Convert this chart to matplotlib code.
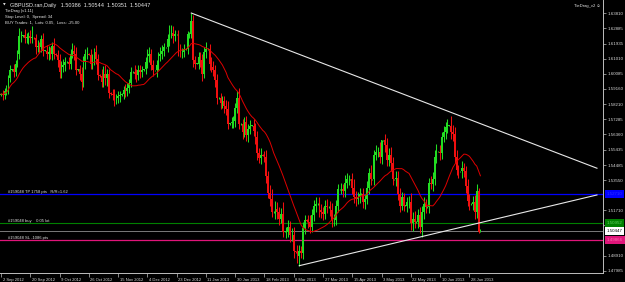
import matplotlib
matplotlib.use("Agg")
import matplotlib.pyplot as plt
import matplotlib.transforms as mtransforms
import numpy as np
import pandas as pd

# GBPUSD daily closes, one row per week: Sun, Mon, Tue, Wed, Thu, Fri (25 Dec missing)
first_open = 1.5880
closes = [
    1.5885, 1.5880, 1.5900, 1.5910, 1.5980, 1.6030,
    1.6035, 1.6020, 1.6070, 1.6130, 1.6240, 1.6240,
    1.6245, 1.6230, 1.6230, 1.6240, 1.6230, 1.6230,
    1.6225, 1.6170, 1.6180, 1.6170, 1.6220, 1.6150,
    1.6150, 1.6130, 1.6140, 1.6130, 1.6180, 1.6130,
    1.6125, 1.6090, 1.6020, 1.6050, 1.6060, 1.6080,
    1.6080, 1.6070, 1.6130, 1.6150, 1.6130, 1.6030,
    1.6035, 1.6010, 1.5960, 1.6080, 1.6130, 1.6130,
    1.6125, 1.6070, 1.6100, 1.6140, 1.6100, 1.6000,
    1.5995, 1.5960, 1.6010, 1.5980, 1.6010, 1.5890,
    1.5885, 1.5880, 1.5860, 1.5860, 1.5870, 1.5880,
    1.5885, 1.5910, 1.5900, 1.5920, 1.5950, 1.6020,
    1.6020, 1.6010, 1.6000, 1.6030, 1.6020, 1.6030,
    1.6035, 1.6080, 1.6120, 1.6130, 1.6060, 1.6030,
    1.6030, 1.6060, 1.6120, 1.6130, 1.6150, 1.6170,
    1.6170, 1.6220, 1.6260, 1.6260, 1.6240, 1.6250,
    1.6250, 1.6160, 1.6140, 1.6140, 1.6160,
    1.6160, 1.6250, 1.6250, 1.6330, 1.6090, 1.6070,
    1.6070, 1.6110, 1.6090, 1.6010, 1.6140, 1.6160,
    1.6160, 1.6070, 1.6050, 1.6030, 1.5970, 1.5860,
    1.5860, 1.5830, 1.5840, 1.5810, 1.5790, 1.5700,
    1.5705, 1.5710, 1.5720, 1.5800, 1.5860, 1.5700,
    1.5700, 1.5650, 1.5710, 1.5630, 1.5670, 1.5690,
    1.5690, 1.5660, 1.5620, 1.5520, 1.5490, 1.5510,
    1.5505, 1.5500, 1.5380, 1.5280, 1.5240, 1.5160,
    1.5160, 1.5180, 1.5160, 1.5120, 1.5150, 1.5040,
    1.5040, 1.5040, 1.5070, 1.5020, 1.5020, 1.4920,
    1.4915, 1.4890, 1.4920, 1.4910, 1.5060, 1.5110,
    1.5105, 1.5100, 1.5070, 1.5140, 1.5200, 1.5210,
    1.5210, 1.5170, 1.5160, 1.5150, 1.5200, 1.5190,
    1.5190, 1.5170, 1.5110, 1.5110, 1.5200, 1.5300,
    1.5300, 1.5300, 1.5290, 1.5340, 1.5360, 1.5360,
    1.5360, 1.5310, 1.5250, 1.5240, 1.5250, 1.5270,
    1.5270, 1.5220, 1.5240, 1.5310, 1.5400, 1.5360,
    1.5360, 1.5510, 1.5530, 1.5530, 1.5500, 1.5600,
    1.5600, 1.5570, 1.5480, 1.5510, 1.5460, 1.5360,
    1.5360, 1.5370, 1.5270, 1.5200, 1.5250, 1.5200,
    1.5200, 1.5220, 1.5220, 1.5090, 1.5120, 1.5100,
    1.5100, 1.5140, 1.5070, 1.5160, 1.5210, 1.5190,
    1.5190, 1.5340, 1.5330, 1.5360, 1.5500, 1.5530,
    1.5530, 1.5520, 1.5620, 1.5650, 1.5680, 1.5690,
    1.5690, 1.5650, 1.5640, 1.5500, 1.5420, 1.5410,
    1.5410, 1.5430, 1.5410, 1.5320, 1.5230, 1.5210,
    1.5210, 1.5220, 1.5160, 1.5290, 1.50386, 1.50447,
]
# wick above / below the body, in pips
hi_ext = [
    5, 25, 20, 30, 20, 30,   4, 35, 20, 25, 50, 30,   4, 40, 30, 25, 35, 70,
    5, 30, 35, 25, 25, 40,   4, 35, 40, 30, 25, 45,   5, 30, 40, 35, 40, 30,
    4, 30, 30, 50, 35, 40,   5, 30, 40, 35, 30, 40,   4, 35, 30, 25, 45, 30,
    5, 40, 45, 50, 25, 30,   4, 30, 35, 25, 30, 25,   5, 25, 35, 30, 25, 30,
    4, 40, 30, 30, 35, 25,   5, 30, 40, 45, 30, 30,   4, 30, 25, 40, 35, 30,
    5, 30, 45, 50, 40, 30,   5, 30, 30, 25, 30,       4, 20, 15, 51, 40, 30,
    5, 35, 30, 40, 30, 45,   4, 30, 40, 35, 30, 40,   5, 30, 30, 35, 40, 50,
    4, 35, 30, 30, 40, 60,   5, 30, 35, 40, 30, 35,   4, 40, 45, 35, 30, 40,
    5, 30, 40, 35, 45, 60,   4, 50, 40, 30, 35, 70,   5, 30, 40, 35, 40, 50,
    4, 40, 35, 30, 40, 35,   5, 40, 45, 40, 35, 40,   4, 45, 40, 30, 35, 40,
    5, 40, 45, 40, 35, 30,   4, 40, 35, 45, 40, 30,   5, 40, 50, 40, 35, 40,
    4, 35, 30, 40, 30, 50,   5, 30, 40, 30, 60, 5,    5, 40, 45, 40, 50, 40,
    4, 40, 45, 40, 35, 30,   5, 35, 40, 55, 40, 45,   4, 40, 50, 35, 40, 30,
    5, 30, 40, 45, 40, 50,   4, 40, 30, 40, 35, 40,   5, 60, 45, 40, 40, 30,
    4, 45, 30, 35, 40, 40,   5, 40, 45, 40, 20, 9.7,
]
lo_ext = [
    5, 30, 25, 20, 25, 20,   5, 30, 25, 20, 30, 35,   4, 35, 30, 40, 30, 30,
    5, 40, 30, 35, 25, 30,   4, 30, 35, 30, 40, 30,   5, 40, 35, 40, 30, 35,
    4, 35, 30, 25, 40, 30,   5, 40, 50, 35, 40, 30,   4, 30, 35, 40, 30, 30,
    5, 35, 30, 40, 45, 30,   4, 35, 50, 40, 30, 35,   5, 30, 35, 30, 30, 25,
    4, 35, 40, 30, 35, 30,   5, 30, 35, 40, 30, 35,   4, 40, 30, 35, 30, 30,
    5, 30, 40, 35, 45, 30,   4, 40, 30, 35, 30,       5, 30, 20, 20, 40, 35,
    4, 35, 40, 45, 30, 35,   5, 40, 30, 35, 40, 40,   4, 35, 30, 40, 35, 30,
    5, 30, 35, 40, 30, 30,   4, 40, 30, 35, 40, 30,   5, 35, 40, 40, 30, 35,
    4, 35, 40, 35, 40, 30,   5, 40, 45, 40, 30, 35,   4, 40, 35, 45, 40, 40,
    5, 40, 59, 30, 40, 35,   4, 35, 40, 30, 35, 40,   5, 40, 35, 40, 30, 35,
    4, 35, 40, 35, 30, 40,   5, 30, 35, 40, 30, 35,   4, 40, 35, 45, 30, 35,
    5, 35, 40, 30, 40, 35,   4, 35, 30, 35, 40, 45,   5, 40, 35, 40, 45, 35,
    4, 40, 35, 40, 30, 35,   5, 40, 35, 40, 45, 40,   4, 35, 40, 63, 40, 35,
    5, 35, 30, 40, 35, 40,   4, 40, 35, 30, 40, 35,   5, 40, 45, 40, 35, 40,
    4, 40, 35, 40, 35, 40,   5, 40, 45, 35, 10, 3.5,
]

date_pos = [0, 16, 32, 48, 64, 80, 96, 112, 128, 144, 160, 176, 192, 208, 224, 240, 256]
date_labels = ["2 Sep 2012", "20 Sep 2012", "9 Oct 2012", "26 Oct 2012", "15 Nov 2012",
               "4 Dec 2012", "23 Dec 2012", "11 Jan 2013", "30 Jan 2013", "18 Feb 2013",
               "8 Mar 2013", "27 Mar 2013", "15 Apr 2013", "3 May 2013", "22 May 2013",
               "10 Jun 2013", "28 Jun 2013"]
price_ticks = [1.63810, 1.62885, 1.61935, 1.61010, 1.60085, 1.59160, 1.58210, 1.57285,
               1.56360, 1.55435, 1.54485, 1.53550, 1.51710, 1.50785,
               1.48910, 1.47985]

# trendlines (bar index, price)
upper_x = [104, 325.7]
upper_y = [1.6381, 1.5429]
lower_x = [163, 325.7]
lower_y = [1.4831, 1.5265]

tp_price, entry_price, bid_price, sl_price = 1.52710, 1.50952, 1.50447, 1.49866

c = np.array(closes)
o = np.r_[first_open, c[:-1]]
hi = np.maximum(o, c) + np.array(hi_ext) / 10000
lo = np.minimum(o, c) - np.array(lo_ext) / 10000
idx = np.arange(len(c))
cols = np.where(c >= o, "#22dc22", "#f01010")
ma = pd.Series(c).rolling(20, min_periods=1).mean()

plt.rcParams["font.family"] = ["Liberation Sans", "DejaVu Sans"]
fig = plt.figure(figsize=(6.25, 2.82), dpi=100, facecolor="black")
ax = fig.add_axes([0, 9 / 282, 603 / 625, 273 / 282], facecolor="black")

ax.vlines(idx, lo, hi, colors=cols, lw=0.75, zorder=3)
ax.bar(idx, np.maximum(np.abs(c - o), 0.00015), bottom=np.minimum(o, c), width=0.9,
       color=cols, lw=0, zorder=3)
ax.plot(idx, ma, color="#e00000", lw=0.7, zorder=4)

ax.axhline(tp_price, color="#0000ff", lw=0.9, zorder=2)
ax.axhline(entry_price, color="#008000", lw=0.8, zorder=2)
ax.axhline(bid_price, color="#7a7a7a", lw=0.7, zorder=2)
ax.axhline(sl_price, color="#e0157a", lw=0.9, zorder=2)

ax.plot(upper_x, upper_y, color="#e8e8e8", lw=0.8, zorder=5)
ax.plot(lower_x, lower_y, color="#e8e8e8", lw=0.8, zorder=5)

lab = dict(color="#e0e0e0", fontsize=3.0, ha="left", va="bottom", zorder=6)
ax.text(4, tp_price, "#159048 TP 1758 pts   R/R=1.62", **lab)
ax.text(4, entry_price, "#159048 buy    0.05 lot", **lab)
ax.text(4, sl_price, "#159048 SL -1086 pts", **lab)

ax.set_xlim(-0.55, 329)
ax.set_ylim(1.47862, 1.6461)

for s in ["top", "left"]:
    ax.spines[s].set_visible(False)
for s in ["right", "bottom"]:
    ax.spines[s].set_color("#bdbdbd")
    ax.spines[s].set_linewidth(0.7)

ax.yaxis.tick_right()
ax.set_yticks(price_ticks, [f"{p:.5f}" for p in price_ticks])
ax.tick_params(axis="y", colors="#bdbdbd", labelcolor="#d8d8d8", labelsize=3.2,
               length=2.5, width=0.5, pad=1)
ax.set_xticks(date_pos, date_labels)
ax.tick_params(axis="x", colors="#bdbdbd", labelcolor="#d8d8d8", labelsize=3.0,
               length=3, width=0.5, pad=0.5)
shift = mtransforms.ScaledTranslation(1.5 / 100, 0, fig.dpi_scale_trans)
for t in ax.get_xticklabels():
    t.set_ha("left")
    t.set_transform(t.get_transform() + shift)

# price boxes on the right scale
yb = mtransforms.blended_transform_factory(ax.transAxes, ax.transData)
boxes = [(tp_price, "#0000ff", "#3030ff"), (entry_price, "#008000", "#60d060"),
         (bid_price, "#ffffff", "#000000"), (sl_price, "#e0157a", "#ff70b0")]
for price, bg, fg in boxes:
    ax.text(1.006, price, f"{price:.5f}", transform=yb, color=fg, fontsize=3.2,
            ha="left", va="center", zorder=10, clip_on=False,
            bbox=dict(facecolor=bg, edgecolor="none", boxstyle="square,pad=0.45"))

hdr = dict(color="#e8e8e8", fontsize=3.0, ha="left", va="center")
fig.text(3 / 625, 1 - 5 / 282, "\u25bc", color="#e8e8e8", fontsize=2.5, ha="left", va="center",
         family="DejaVu Sans")
fig.text(10 / 625, 1 - 5 / 282, "GBPUSD.ran,Daily   1.50386  1.50544  1.50351  1.50447",
         color="#e8e8e8", fontsize=4.0, ha="left", va="center")
fig.text(5 / 625, 1 - 11 / 282, "TieDrag (v1.11)", **hdr)
fig.text(5 / 625, 1 - 17 / 282, "Stop Level: 0,  Spread: 34", **hdr)
fig.text(5 / 625, 1 - 23 / 282, "BUY Trades: 1,  Lots: 0.05,  Loss: -25.00", **hdr)
fig.text(601 / 625, 1 - 6 / 282, "TieDrag_v2 \u263a", color="#e8e8e8", fontsize=3.0,
         ha="right", va="center", family=["Liberation Sans", "DejaVu Sans"])

fig.savefig("out.png", dpi=100, facecolor="black")
